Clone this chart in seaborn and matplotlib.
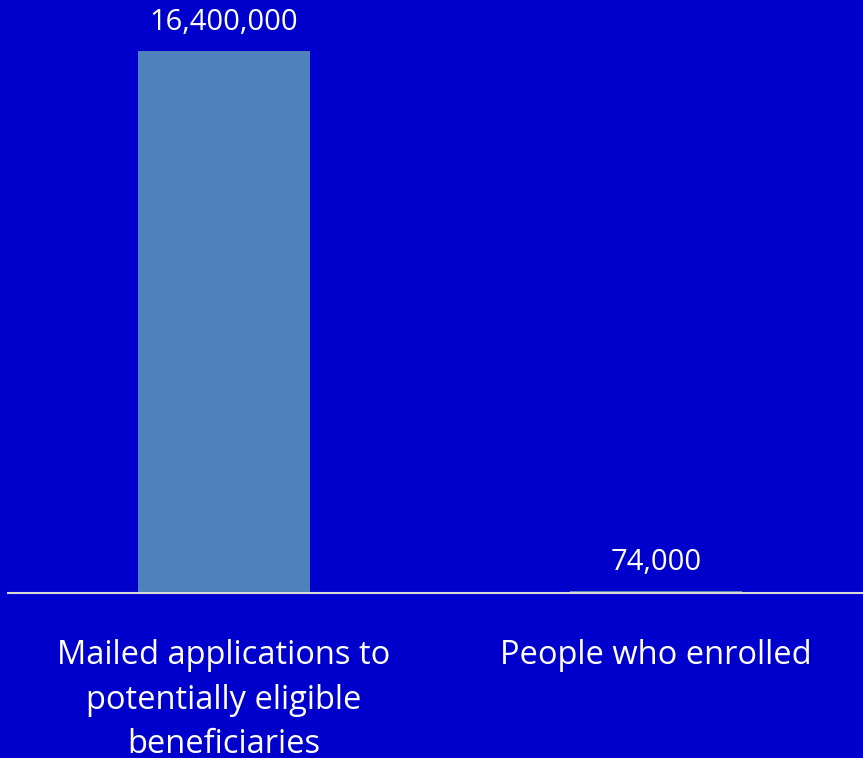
import matplotlib
matplotlib.use("Agg")
import matplotlib.pyplot as plt
import seaborn as sns
import pandas as pd

# data
categories = ["Mailed applications to\npotentially eligible\nbeneficiaries", "People who enrolled"]
values = [16400000, 74000]

BG = "#0000CC"
BAR = "#4F81BD"

sns.set_theme(style="white")
plt.rcParams["font.family"] = ["Open Sans", "DejaVu Sans"]

df = pd.DataFrame({"category": categories, "value": values})

fig = plt.figure(figsize=(8.63, 7.58), dpi=100, facecolor=BG)
ax = fig.add_axes([8 / 863, 165 / 758, 864 / 863, 593 / 758])
ax.set_facecolor(BG)

sns.barplot(data=df, x="category", y="value", color=BAR, width=0.4,
            saturation=1, linewidth=0, ax=ax)

ax.set_xlim(-0.5, 1.5)
ax.set_ylim(0, 16400000 * 593 / 542)

labels = [f"{v:,}" for v in values]
ax.bar_label(ax.containers[0], labels=labels, padding=10, color="white", fontsize=21)

for side in ["left", "right", "top"]:
    ax.spines[side].set_visible(False)
ax.spines["bottom"].set_color("#D9D9D9")
ax.spines["bottom"].set_linewidth(1.5)

ax.set_yticks([])
ax.set_xlabel("")
ax.set_ylabel("")
ax.tick_params(axis="x", length=0, pad=33, labelsize=23.5, colors="white")
for t in ax.get_xticklabels():
    t.set_linespacing(1.47)
    t.set_verticalalignment("top")

fig.savefig("out.png", dpi=100, facecolor=BG)
